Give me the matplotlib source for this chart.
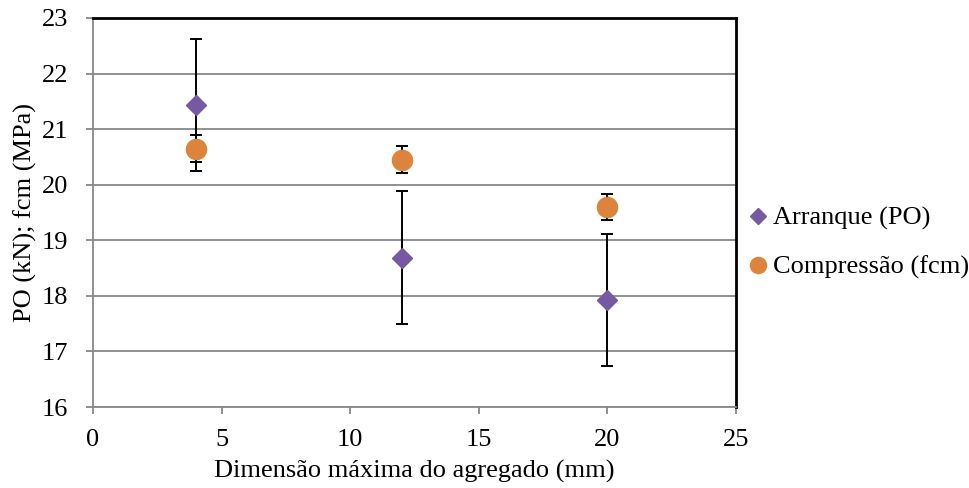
import matplotlib
matplotlib.use("Agg")
import matplotlib.pyplot as plt

plt.rcParams['font.family'] = ['Liberation Serif', 'DejaVu Serif']

x_vals = [4, 12, 20]
po_vals = [21.43, 18.69, 17.93]
po_err = [1.19, 1.19, 1.19]
fcm_vals = [20.65, 20.45, 19.60]
fcm_err = [0.24, 0.24, 0.23]

x_ticks = [0, 5, 10, 15, 20, 25]
y_ticks = [16, 17, 18, 19, 20, 21, 22, 23]

fig = plt.figure(figsize=(9.7, 4.88), dpi=100)
ax = fig.add_axes([93/970, 1-407/488, (736-93)/970, (407-18)/488])

grid_c = '#888888'
for y in y_ticks:
    ax.axhline(y, color=grid_c, lw=1.3, zorder=0)

ax.errorbar(x_vals, fcm_vals, yerr=fcm_err, fmt='none', ecolor='black', elinewidth=1.4,
            capsize=4.3, capthick=1.4, zorder=2)
ax.errorbar(x_vals, po_vals, yerr=po_err, fmt='none', ecolor='black', elinewidth=1.4,
            capsize=4.3, capthick=1.4, zorder=2)
ax.plot(x_vals, po_vals, 'D', color='#7559A2', markersize=10, mec='#7559A2',
        label='Arranque (PO)', zorder=3, linestyle='none')
ax.plot(x_vals, fcm_vals, 'o', color='#DD843C', markersize=14.5, mec='#DD843C',
        label='Compressão (fcm)', zorder=3, linestyle='none')

ax.set_xlim(0, 25)
ax.set_ylim(16, 23)
ax.set_xticks(x_ticks)
ax.set_yticks(y_ticks)
ax.tick_params(axis='both', labelsize=19, color=grid_c, length=5, width=1.3, direction='out')
ax.tick_params(axis='x', pad=11)
ax.tick_params(axis='y', pad=13)

ax.spines['left'].set_color(grid_c)
ax.spines['bottom'].set_color(grid_c)
ax.spines['left'].set_linewidth(1.3)
ax.spines['bottom'].set_linewidth(1.3)
ax.spines['top'].set_color('black')
ax.spines['right'].set_color('black')
ax.spines['top'].set_linewidth(2)
ax.spines['right'].set_linewidth(2)

ax.set_xlabel('Dimensão máxima do agregado (mm)', fontsize=19, labelpad=6)
ax.set_ylabel('PO (kN); fcm (MPa)', fontsize=19, labelpad=3)

fig.legend(loc='center left', bbox_to_anchor=(745/970, 1-243/488), frameon=False,
           fontsize=19, handletextpad=0.05, handlelength=1.0, labelspacing=0.95,
           borderaxespad=0, borderpad=0, markerscale=0.8)

fig.savefig('out.png', dpi=100)
